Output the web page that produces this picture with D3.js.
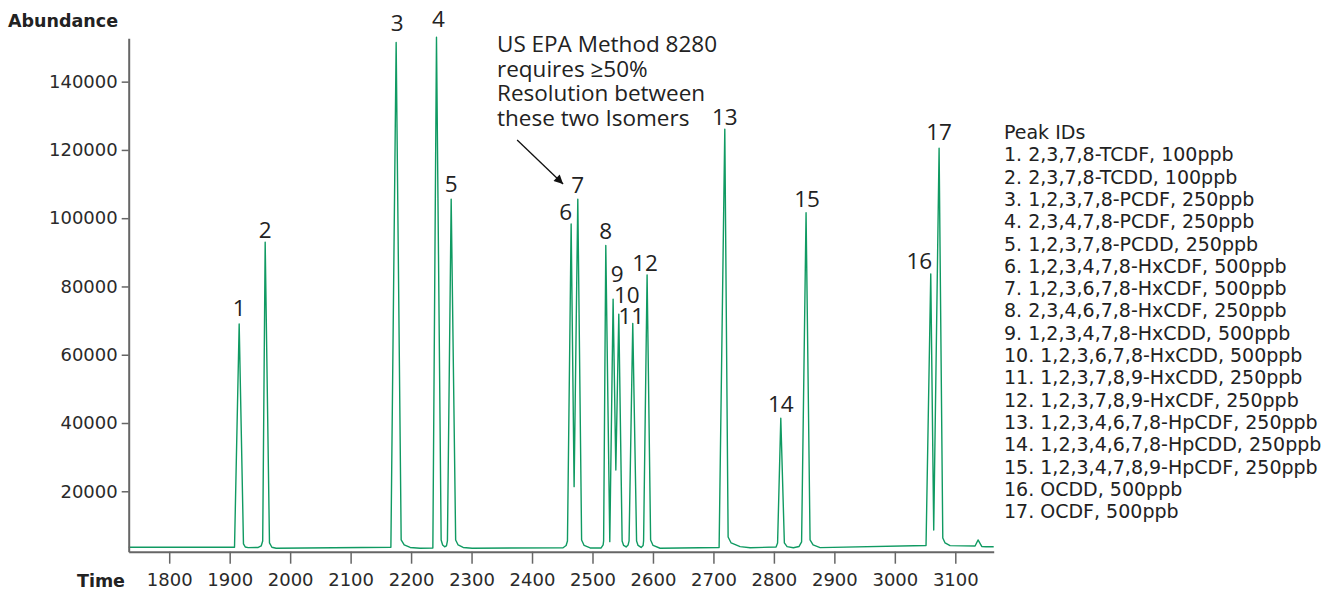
<!DOCTYPE html>
<html>
<head>
<meta charset="utf-8">
<script src="https://cdn.jsdelivr.net/npm/d3@7/dist/d3.min.js"></script>
<style>
  html, body { margin: 0; padding: 0; background: #fff; }
  svg { display: block; }
</style>
</head>
<body>
<svg id="chart" width="1324" height="590"></svg>
<script>
// Peak apexes: retention time and abundance
const peakIds = [1, 2, 3, 4, 5, 6, 7, 8, 9, 10, 11, 12, 13, 14, 15, 16, 17];
const peakTimes = [1915.7, 1958.7, 2175.3, 2242.0, 2266.3, 2464.7, 2475.7, 2522.0, 2534.1,
                   2543.5, 2566.6, 2590.3, 2718.8, 2811.4, 2853.2, 3059.4, 3073.2];
const peakHeights = [69000, 93000, 151500, 153000, 105600, 98300, 105600, 92000, 76300,
                     71900, 69200, 83400, 126100, 41400, 101600, 83700, 120500];

// Compound names for the peak key
const peakNames = [
  "2,3,7,8-TCDF, 100ppb",
  "2,3,7,8-TCDD, 100ppb",
  "1,2,3,7,8-PCDF, 250ppb",
  "2,3,4,7,8-PCDF, 250ppb",
  "1,2,3,7,8-PCDD, 250ppb",
  "1,2,3,4,7,8-HxCDF, 500ppb",
  "1,2,3,6,7,8-HxCDF, 500ppb",
  "2,3,4,6,7,8-HxCDF, 250ppb",
  "1,2,3,4,7,8-HxCDD, 500ppb",
  "1,2,3,6,7,8-HxCDD, 500ppb",
  "1,2,3,7,8,9-HxCDD, 250ppb",
  "1,2,3,7,8,9-HxCDF, 250ppb",
  "1,2,3,4,6,7,8-HpCDF, 250ppb",
  "1,2,3,4,6,7,8-HpCDD, 250ppb",
  "1,2,3,4,7,8,9-HpCDF, 250ppb",
  "OCDD, 500ppb",
  "OCDF, 500ppb"
];

// Baseline, valleys and peak feet of the trace (time, abundance)
const traceTimes = [
  1733, 1908.0,
  1922.8, 1925.7, 1930.6, 1947.2, 1952.1, 1954.6,
  1965.8, 1969.8, 1976.9, 2166.6,
  2183.6, 2188.6, 2198.5, 2215.0, 2236.0,
  2249.7, 2252.2, 2255.5, 2258.5, 2260.1,
  2273.7, 2277.8, 2286.1, 2301.0, 2451.4, 2456.4, 2458.6,
  2469.6,
  2482.0, 2486.2, 2496.1, 2514.3, 2517.6, 2518.4,
  2528.6,
  2538.6,
  2549.0, 2551.5, 2555.6, 2558.9, 2560.5,
  2572.9, 2575.4, 2580.4, 2583.7, 2584.5,
  2596.1, 2600.2, 2611.8, 2709.4,
  2724.3, 2729.3, 2744.1, 2760.7, 2803.6, 2806.1,
  2817.3, 2821.8, 2832.2, 2841.7, 2845.8,
  2859.8, 2864.8, 2876.4, 3051.6,
  3064.3,
  3079.3, 3083.1, 3091.3, 3132.7, 3137.6, 3143.7, 3150.8, 3163.5
];
const traceValues = [
  3600, 3600,
  4570, 3690, 3490, 3545, 3985, 5450,
  4864, 3600, 3311, 3600,
  5740, 4280, 3545, 3311, 3400,
  5740, 4280, 3750, 3985, 5450,
  5740, 4280, 3545, 3311, 3457, 4130, 5450,
  21360,
  5740, 4130, 3400, 3400, 4280, 5450,
  5245,
  26250,
  5450, 4130, 3690, 4280, 5450,
  5450, 4130, 3545, 4130, 5450,
  5740, 4130, 3311, 3545,
  6620, 4864, 3780, 3457, 3690, 4864,
  4864, 3780, 3457, 3840, 5160,
  5740, 4280, 3490, 4130,
  8670,
  6330, 4864, 4073, 3985, 5740, 3840, 3750, 3750
];

// Axis ticks
const xTicks = [1800, 1900, 2000, 2100, 2200, 2300, 2400, 2500, 2600, 2700, 2800, 2900, 3000, 3100];
const yTicks = [20000, 40000, 60000, 80000, 100000, 120000, 140000];

// Callout text
const noteLines = ["US EPA Method 8280", "requires \u226550%", "Resolution between", "these two Isomers"];

// Label placement tweaks (px) for crowded peaks
const labelNudge = [
  [0, -7.6], [0, -4.5], [1, -11.4], [2, -10], [0, -7], [-5.5, -4], [0, -6], [0, -6.5], [4, -17],
  [8, -11], [-1.5, 0.7], [-2, -3.5], [0, -4.5], [0, -6.5], [1, -6], [-11.5, -4.7], [0, -8.5]
];

const svg = d3.select("#chart");
const green = "#109a62";
const axisColor = "#666";

const x = d3.scaleLinear().domain([1733, 3163.5]).range([128.7, 993.7]);
const y = d3.scaleLinear().domain([2300, 152700]).range([551.7, 38.3]);

// Trace: feet/valleys merged with apexes, ordered by time
const points = traceTimes.map((t, i) => [t, traceValues[i]])
  .concat(peakTimes.map((t, i) => [t, peakHeights[i]]))
  .sort((a, b) => a[0] - b[0]);

const line = d3.line().x(d => x(d[0])).y(d => y(d[1])).curve(d3.curveLinear);

svg.append("path")
  .datum(points)
  .attr("d", line)
  .attr("fill", "none")
  .attr("stroke", green)
  .attr("stroke-width", 1.4)
  .attr("stroke-linejoin", "round");

// Axes
const yAxis = d3.axisLeft(y).tickValues(yTicks).tickSize(7).tickSizeOuter(0).tickPadding(4)
  .tickFormat(d3.format("d"));
const gy = svg.append("g").attr("transform", `translate(${x.range()[0]},0)`).call(yAxis);

const xAxis = d3.axisBottom(x).tickValues(xTicks).tickSize(12).tickSizeOuter(0).tickPadding(10)
  .tickFormat(d3.format("d"));
const gx = svg.append("g").attr("transform", `translate(0,${y.range()[0]})`).call(xAxis);

[gx, gy].forEach(g => {
  g.select(".domain").attr("stroke", axisColor).attr("stroke-width", 2);
  g.selectAll(".tick line").attr("stroke", axisColor).attr("stroke-width", 1.5);
  g.selectAll(".tick text")
    .attr("fill", "#2a2a2a")
    .style("font-family", "'DejaVu Sans', Verdana, sans-serif")
    .style("font-size", "18px");
});

// Axis titles
svg.append("text")
  .attr("x", 8).attr("y", 27)
  .style("font-family", "'DejaVu Sans', Verdana, sans-serif")
  .style("font-size", "17.5px").style("font-weight", "bold")
  .attr("fill", "#222")
  .text("Abundance");

svg.append("text")
  .attr("x", 125).attr("y", 587).attr("text-anchor", "end")
  .style("font-family", "'DejaVu Sans', Verdana, sans-serif")
  .style("font-size", "17.5px").style("font-weight", "bold")
  .attr("fill", "#222")
  .text("Time");

// Peak numbers
svg.append("g").selectAll("text")
  .data(peakIds)
  .join("text")
  .attr("x", (d, i) => x(peakTimes[i]) + labelNudge[i][0])
  .attr("y", (d, i) => y(peakHeights[i]) + labelNudge[i][1])
  .attr("text-anchor", "middle")
  .style("font-family", "'Open Sans', 'Noto Sans', sans-serif")
  .style("font-size", "22.5px")
  .attr("fill", "#222")
  .text(d => d);

// Callout about the 6/7 isomer pair
const note = svg.append("text")
  .attr("x", 497).attr("y", 52)
  .style("font-family", "'Open Sans', 'Noto Sans', sans-serif")
  .style("font-size", "22.5px")
  .attr("fill", "#222");
note.selectAll("tspan")
  .data(noteLines)
  .join("tspan")
  .attr("x", 497)
  .attr("dy", (d, i) => i === 0 ? 0 : 24.6)
  .text(d => d);

svg.append("defs").append("marker")
  .attr("id", "arrowhead")
  .attr("viewBox", "0 0 10 10")
  .attr("refX", 10).attr("refY", 5)
  .attr("markerWidth", 11).attr("markerHeight", 9)
  .attr("markerUnits", "userSpaceOnUse")
  .attr("orient", "auto")
  .append("path")
  .attr("d", "M0,0 L10,5 L0,10 Z")
  .attr("fill", "#111");

svg.append("line")
  .attr("x1", x(2375.4)).attr("y1", y(122900))
  .attr("x2", x(2451.4)).attr("y2", y(110000))
  .attr("stroke", "#111")
  .attr("stroke-width", 1.3)
  .attr("marker-end", "url(#arrowhead)");

// Peak key
const key = svg.append("g")
  .style("font-family", "'DejaVu Sans', Verdana, sans-serif")
  .style("font-size", "19px")
  .attr("fill", "#222");
key.append("text").attr("x", 1004).attr("y", 139).text("Peak IDs");
key.selectAll("text.item")
  .data(peakNames)
  .join("text")
  .attr("class", "item")
  .attr("x", 1004)
  .attr("y", (d, i) => 139 + (i + 1) * 22.3)
  .text((d, i) => `${peakIds[i]}. ${d}`);
</script>
</body>
</html>
